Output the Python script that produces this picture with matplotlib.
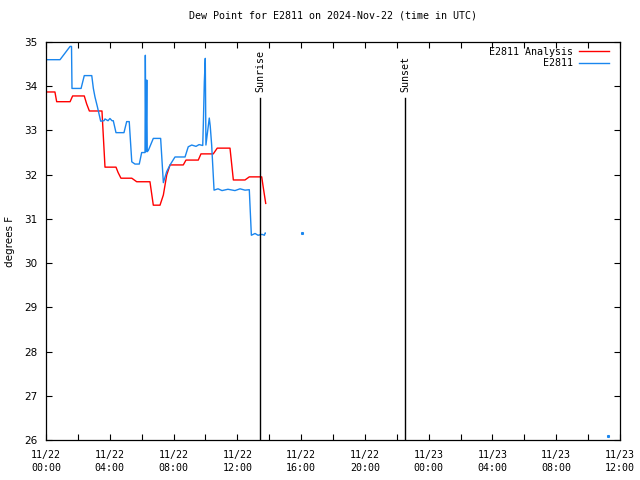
import datetime as dt
import matplotlib
matplotlib.use("Agg")
import matplotlib.pyplot as plt
import matplotlib.dates as mdates

start = dt.datetime(2024, 11, 22, 0, 0)

# E2811 observations (hours after 11/22 00:00 UTC, deg F)
obs_hours = [0.00, 0.88, 1.51, 1.60, 1.63, 2.20, 2.40, 2.87, 2.97, 3.07, 3.22, 3.34, 3.43,
             3.64, 3.70, 3.89, 4.01, 4.14, 4.22, 4.39, 4.89, 5.06, 5.22, 5.38, 5.58, 5.85,
             6.00, 6.21, 6.23, 6.27, 6.32, 6.35, 6.42, 6.73, 7.19, 7.36, 7.57, 7.78, 8.09,
             8.72, 8.92, 9.14, 9.41, 9.60, 9.83, 9.87, 9.93, 9.99, 10.03, 10.24, 10.30,
             10.39, 10.54, 10.79, 11.04, 11.41, 11.85, 12.17, 12.48, 12.75, 12.88, 13.11,
             13.30, 13.55, 13.70, 13.74, 13.75]
obs_vals = [34.60, 34.60, 34.90, 34.90, 33.95, 33.95, 34.24, 34.24, 33.95, 33.76, 33.54, 33.35, 33.21,
            33.22, 33.26, 33.22, 33.27, 33.22, 33.22, 32.95, 32.95, 33.20, 33.20, 32.29, 32.24, 32.24,
            32.50, 32.50, 34.70, 32.52, 34.14, 32.52, 32.55, 32.82, 32.82, 31.82, 32.07, 32.22, 32.40,
            32.40, 32.63, 32.67, 32.64, 32.68, 32.66, 33.17, 34.10, 34.63, 32.67, 33.28, 33.10,
            32.67, 31.65, 31.68, 31.64, 31.67, 31.64, 31.68, 31.65, 31.66, 30.63, 30.67,
            30.63, 30.65, 30.63, 30.68, 30.68]

# lone observation points
dot_hours = [16.07, 35.27]
dot_vals = [30.69, 26.08]

# E2811 analysis
ana_hours = [0.00, 0.56, 0.67, 1.51, 1.67, 2.40, 2.55, 2.72, 3.51, 3.70, 4.39, 4.52, 4.70,
             5.38, 5.69, 6.52, 6.73, 7.15, 7.36, 7.57, 7.78, 8.61, 8.78, 9.55, 9.72, 10.49,
             10.74, 11.54, 11.75, 12.48, 12.75, 13.53, 13.61, 13.78]
ana_vals = [33.87, 33.87, 33.65, 33.65, 33.78, 33.78, 33.60, 33.44, 33.44, 32.17, 32.17, 32.05, 31.92,
            31.92, 31.84, 31.84, 31.31, 31.31, 31.54, 31.99, 32.22, 32.22, 32.33, 32.33, 32.47, 32.47,
            32.60, 32.60, 31.88, 31.88, 31.95, 31.95, 31.75, 31.35]

sun_labels = ["Sunrise", "Sunset"]
sun_hours = [13.42, 22.52]


def to_time(hours):
    return [start + dt.timedelta(hours=h) for h in hours]


mono = "DejaVu Sans Mono"
fs = 7.2
fig = plt.figure(figsize=(6.4, 4.8), dpi=100)
ax = fig.add_axes([46 / 640, 1 - 440 / 480, 574 / 640, 398 / 480])

red = "#ff0000"
blue = "#1a86ee"
ax.plot(to_time(ana_hours), ana_vals, color=red, lw=1.0, label="E2811 Analysis")
ax.plot(to_time(obs_hours), obs_vals, color=blue, lw=1.0, label="E2811")
ax.plot(to_time(dot_hours), dot_vals, ls="none", marker="s", ms=1.2, color=blue)

for name, h in zip(sun_labels, sun_hours):
    t = start + dt.timedelta(hours=h)
    ax.plot([t, t], [26, 33.73], color="black", lw=1.0)
    ax.text(t, 33.88, name, rotation=90, ha="center", va="bottom",
            family=mono, fontsize=fs)

ax.set_xlim(start, start + dt.timedelta(hours=36))
ax.set_ylim(26, 35)
ax.set_yticks(range(26, 36))

ax.xaxis.set_major_locator(mdates.HourLocator(byhour=range(0, 24, 4)))
ax.xaxis.set_minor_locator(mdates.HourLocator(byhour=range(2, 24, 4)))
ax.xaxis.set_major_formatter(mdates.DateFormatter("%m/%d\n%H:%M"))

ax.tick_params(which="both", direction="in", top=True, right=True, length=4, width=0.8)
ax.tick_params(axis="x", pad=7, labelsize=fs)
ax.tick_params(axis="y", pad=6, labelsize=7.5)
for lab in ax.get_xticklabels():
    lab.set_family(mono)
    lab.set_linespacing(1.35)
for sp in ax.spines.values():
    sp.set_linewidth(0.9)

ax.set_ylabel("degrees F", fontsize=7.5)
ax.yaxis.set_label_coords(-31 / 574, 0.5)
ax.set_title("Dew Point for E2811 on 2024-Nov-22 (time in UTC)", family=mono,
             fontsize=fs, pad=17)

leg = ax.legend(loc="upper right", bbox_to_anchor=(1 - 7 / 574, 1 - 1 / 398),
                frameon=False, markerfirst=False,
                prop={"family": mono, "size": fs}, handlelength=3.0,
                handletextpad=0.6, labelspacing=0.15, borderaxespad=0.0)
for t in leg.get_texts():
    t.set_ha("right")

fig.savefig("out.png", dpi=100)
